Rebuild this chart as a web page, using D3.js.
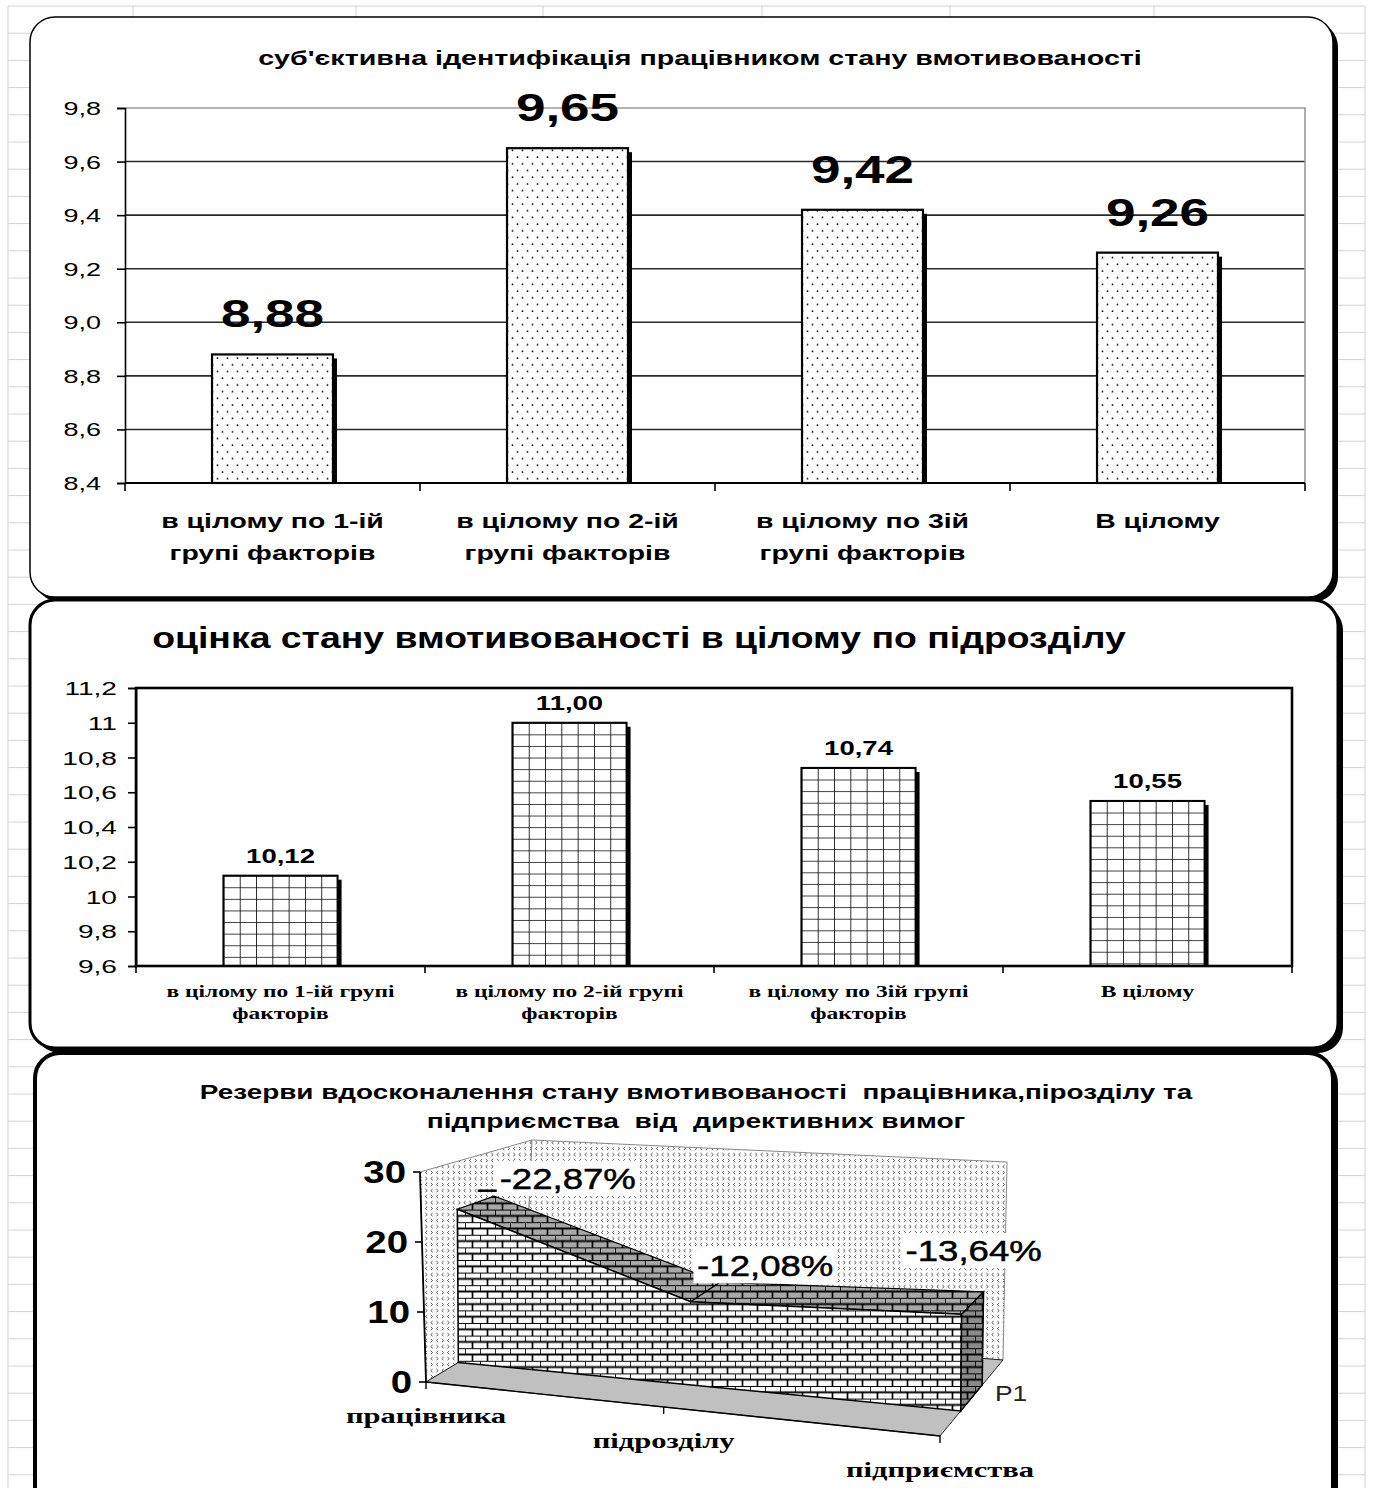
<!DOCTYPE html>
<html>
<head>
<meta charset="utf-8">
<script src="https://cdn.jsdelivr.net/npm/d3@7"></script>
<style>
  body { margin: 0; background: #fff; }
</style>
</head>
<body>
<div id="chart"></div>
<script>
// ---- data ----
const categories = ["в цілому по 1-ій групі факторів", "в цілому по 2-ій групі факторів", "в цілому по 3ій групі факторів", "В цілому"];

const title1 = "суб'єктивна ідентифікація працівником стану вмотивованості";
const values1 = [8.88, 9.65, 9.42, 9.26];
const ticks1 = [8.4, 8.6, 8.8, 9.0, 9.2, 9.4, 9.6, 9.8];

const title2 = "оцінка стану вмотивованості в цілому по підрозділу";
const values2 = [10.12, 11.00, 10.74, 10.55];
const ticks2 = [9.6, 9.8, 10, 10.2, 10.4, 10.6, 10.8, 11, 11.2];

const title3 = ["Резерви вдосконалення стану вмотивованості  працівника,пірозділу та", "підприємства  від  директивних вимог"];
const categories3 = ["працівника", "підрозділу", "підприємства"];
const values3 = [22.87, 12.08, 13.64];
const ticks3 = [0, 10, 20, 30];
const seriesName3 = "P1";

// ---- helpers ----
const SANS = "Arial, 'Liberation Sans', sans-serif";
const SERIF = "'Times New Roman', 'Liberation Serif', serif";
const uk = d3.formatLocale({ decimal: ",", thousands: " ", grouping: [3], currency: ["", ""] });

const svg = d3.select("#chart").append("svg")
    .attr("width", 1373).attr("height", 1488)
    .style("display", "block");
const defs = svg.append("defs");

// text drawn with horizontal stretch (the source screenshot is widened)
function label(parent, x, y, str, o) {
    const g = parent.append("g").attr("transform", `translate(${x},${y}) scale(${o.sx || 1},1)`);
    const t = g.append("text")
        .attr("text-anchor", o.anchor || "middle")
        .attr("fill", o.color || "#000")
        .style("font-family", o.serif ? SERIF : SANS)
        .style("font-size", o.size + "px")
        .style("font-weight", o.bold ? "bold" : "normal")
        .style("white-space", "pre")
        .text(str);
    if (o.width) {
        const w = t.node().getComputedTextLength();
        g.attr("transform", `translate(${x},${y}) scale(${o.width / w},1)`);
    }
    return { g, t };
}

function splitWords(str, n) {
    const w = str.split(" ");
    return w.length > n ? [w.slice(0, n).join(" "), w.slice(n).join(" ")] : [str];
}

// ---- patterns ----
const dots = defs.append("pattern").attr("id", "dots")
    .attr("patternUnits", "userSpaceOnUse").attr("width", 10).attr("height", 13.4);
dots.append("rect").attr("width", 10).attr("height", 13.4).attr("fill", "#fff");
dots.append("circle").attr("cx", 2.5).attr("cy", 3).attr("r", 0.9).attr("fill", "#000");
dots.append("circle").attr("cx", 7.5).attr("cy", 9.7).attr("r", 0.9).attr("fill", "#000");

const chev = defs.append("pattern").attr("id", "chev")
    .attr("patternUnits", "userSpaceOnUse").attr("width", 11).attr("height", 12);
chev.append("rect").attr("width", 11).attr("height", 12).attr("fill", "#fff");
chev.append("path")
    .attr("d", "M3.6,1 L1.8,2.6 L3.6,4.2 M7.4,1 L9.2,2.6 L7.4,4.2 M1.8,7 L3.6,8.6 L1.8,10.2 M9.2,7 L7.4,8.6 L9.2,10.2")
    .attr("fill", "none").attr("stroke", "#444").attr("stroke-width", 0.9);

function brick(id, fill) {
    const p = defs.append("pattern").attr("id", id)
        .attr("patternUnits", "userSpaceOnUse").attr("width", 15).attr("height", 12.6);
    p.append("rect").attr("width", 15).attr("height", 12.6).attr("fill", fill);
    p.append("path").attr("d", "M0,0H15 M0,6.3H15 M0,0V6.3 M7.5,6.3V12.6")
        .attr("stroke", "#000").attr("stroke-width", 1.7);
}
brick("brickW", "#fff");
brick("brickG", "#a8a8a8");
brick("brickD", "#8a8a8a");

// ---- spreadsheet background ----
const bg = svg.append("g").attr("stroke", "#d2d2d2").attr("stroke-width", 1);
[8, 133, 356, 543, 762, 950, 1154, 1365].forEach(x =>
    bg.append("line").attr("x1", x).attr("x2", x).attr("y1", 6).attr("y2", 1488));
d3.range(6, 1488, 27.2).forEach(y =>
    bg.append("line").attr("x1", 8).attr("x2", 1365).attr("y1", y).attr("y2", y));

// ---- panels ----
const panels = [
    { x: 30, y: 17, w: 1303, h: 580, sw: 1.5 },
    { x: 30, y: 600, w: 1308, h: 448, sw: 3 },
    { x: 35, y: 1053, w: 1298, h: 480, sw: 4 }
];
panels.forEach(p => {
    svg.append("rect").attr("x", p.x + 5).attr("y", p.y + 5).attr("width", p.w).attr("height", p.h)
        .attr("rx", 25).attr("fill", "#000");
    svg.append("rect").attr("x", p.x).attr("y", p.y).attr("width", p.w).attr("height", p.h)
        .attr("rx", 25).attr("fill", "#fff").attr("stroke", "#000").attr("stroke-width", p.sw);
});

// ================= chart 1 =================
(function () {
    const m = { left: 125, right: 1305, top: 108, bottom: 483 };
    const g = svg.append("g");
    const x = d3.scaleBand().domain(categories).range([m.left, m.right]);
    const y = d3.scaleLinear().domain([8.4, 9.8]).range([m.bottom, m.top]);

    label(g, 700, 65, title1, { size: 20, bold: true, width: 884 });

    // gridlines
    g.append("g").selectAll("line").data(ticks1.slice(1, -1)).join("line")
        .attr("x1", m.left).attr("x2", m.right).attr("y1", d => y(d)).attr("y2", d => y(d))
        .attr("stroke", "#2a2a2a").attr("stroke-width", 1.6);
    g.append("path")
        .attr("d", `M${m.left},${y(9.8)}H${m.right}V${m.bottom}`)
        .attr("fill", "none").attr("stroke", "#9a9a9a").attr("stroke-width", 1.6);

    // bars
    const bw = x.bandwidth() * 0.41;
    const bars = g.append("g").selectAll("g").data(values1).join("g");
    bars.append("rect")
        .attr("x", (d, i) => x(categories[i]) + (x.bandwidth() - bw) / 2 + 4)
        .attr("y", d => y(d) + 4)
        .attr("width", bw).attr("height", d => y(8.4) - y(d) - 4)
        .attr("fill", "#000");
    bars.append("rect")
        .attr("x", (d, i) => x(categories[i]) + (x.bandwidth() - bw) / 2)
        .attr("y", d => y(d))
        .attr("width", bw).attr("height", d => y(8.4) - y(d))
        .attr("fill", "url(#dots)").attr("stroke", "#000").attr("stroke-width", 2.2);

    // axes
    g.append("g").attr("transform", `translate(${m.left},0)`)
        .call(d3.axisLeft(y).tickValues(ticks1).tickSize(8).tickFormat(""))
        .call(a => a.selectAll("line,path").attr("stroke", "#000").attr("stroke-width", 1.6));
    g.append("line").attr("x1", m.left).attr("x2", m.right).attr("y1", m.bottom).attr("y2", m.bottom)
        .attr("stroke", "#000").attr("stroke-width", 1.8);
    const bounds = categories.map(c => x(c)).concat(m.right);
    g.append("g").selectAll("line").data(bounds).join("line")
        .attr("x1", d => d).attr("x2", d => d).attr("y1", m.bottom).attr("y2", m.bottom + 8)
        .attr("stroke", "#000").attr("stroke-width", 1.6);

    ticks1.forEach(t => label(g, 101, y(t) + 7, uk.format(".1f")(t), { size: 19, sx: 1.42, anchor: "end" }));

    values1.forEach((v, i) => label(g, x(categories[i]) + x.bandwidth() / 2, y(v) - 27,
        uk.format(".2f")(v), { size: 39, bold: true, sx: 1.36 }));

    categories.forEach(c => {
        splitWords(c, 4).forEach((line, j) =>
            label(g, x(c) + x.bandwidth() / 2, 528 + j * 32, line, { size: 20, bold: true, sx: 1.42 }));
    });
})();

// ================= chart 2 =================
(function () {
    const m = { left: 136, right: 1292, top: 688, bottom: 966 };
    const g = svg.append("g");
    const x = d3.scaleBand().domain(categories).range([m.left, m.right]);
    const y = d3.scaleLinear().domain([9.6, 11.2]).range([m.bottom, m.top]);

    label(g, 639, 648, title2, { size: 30, bold: true, width: 974 });

    const bw = x.bandwidth() * 0.395;
    values2.forEach((v, i) => {
        const bx = x(categories[i]) + (x.bandwidth() - bw) / 2;
        const by = y(v);
        const bh = y(9.6) - y(v);
        const cols = 7;
        const pat = defs.append("pattern").attr("id", "grid" + i)
            .attr("patternUnits", "userSpaceOnUse")
            .attr("width", bw / cols).attr("height", 11.6)
            .attr("patternTransform", `translate(${bx},${by})`);
        pat.append("rect").attr("width", bw / cols).attr("height", 11.6).attr("fill", "#fff");
        pat.append("path").attr("d", `M0,0H${bw / cols}M0,0V11.6`)
            .attr("stroke", "#000").attr("stroke-width", 1.6);

        g.append("rect").attr("x", bx + 4).attr("y", by + 4).attr("width", bw).attr("height", bh - 4)
            .attr("fill", "#000");
        g.append("rect").attr("x", bx).attr("y", by).attr("width", bw).attr("height", bh)
            .attr("fill", `url(#grid${i})`).attr("stroke", "#000").attr("stroke-width", 2);
        label(g, bx + bw / 2, by - 13, uk.format(".2f")(v), { size: 21, bold: true, sx: 1.31 });
    });

    g.append("rect").attr("x", m.left).attr("y", m.top)
        .attr("width", m.right - m.left).attr("height", m.bottom - m.top)
        .attr("fill", "none").attr("stroke", "#000").attr("stroke-width", 2.6);

    g.append("g").attr("transform", `translate(${m.left},0)`)
        .call(d3.axisLeft(y).tickValues(ticks2).tickSize(8).tickFormat(""))
        .call(a => a.selectAll("line,path").attr("stroke", "#000").attr("stroke-width", 1.6));
    const bounds = categories.map(c => x(c)).concat(m.right);
    g.append("g").selectAll("line").data(bounds).join("line")
        .attr("x1", d => d).attr("x2", d => d).attr("y1", m.bottom).attr("y2", m.bottom + 7)
        .attr("stroke", "#000").attr("stroke-width", 1.6);

    ticks2.forEach(t => label(g, 117, y(t) + 7, uk.format("~f")(t), { size: 19, sx: 1.48, anchor: "end" }));

    categories.forEach(c => {
        splitWords(c, 5).forEach((line, j) =>
            label(g, x(c) + x.bandwidth() / 2, 997 + j * 22, line, { size: 16.5, bold: true, serif: true, sx: 1.42 }));
    });
})();

// ================= chart 3 (3-D area) =================
(function () {
    const g = svg.append("g");
    title3.forEach((line, j) =>
        label(g, 696, 1099 + j * 29, line, { size: 20, bold: true, width: j === 0 ? 993 : 539 }));

    // box corners on screen: Front/Back, Left/Right, Bottom/Top
    const C = {
        FLB: [426, 1382], FLT: [420, 1172], BLB: [524, 1323], BLT: [532, 1140],
        FRB: [940, 1436], FRT: [941, 1216], BRB: [1003, 1360], BRT: [1007, 1162]
    };
    const persp = 0.86; // right end is nearer to the viewer
    const lerp = (a, b, t) => [a[0] + (b[0] - a[0]) * t, a[1] + (b[1] - a[1]) * t];
    function project(c, v, d) {
        const s = c * persp / ((1 - c) + c * persp);
        const front = lerp(lerp(C.FLB, C.FLT, v), lerp(C.FRB, C.FRT, v), s);
        const back = lerp(lerp(C.BLB, C.BLT, v), lerp(C.BRB, C.BRT, v), s);
        return lerp(front, back, d);
    }
    const cx = d3.scalePoint().domain(categories3).range([0, 1]);
    const vy = d3.scaleLinear().domain([0, 30]).range([0, 1]);
    const d0 = 0.33, d1 = 0.67;
    const poly = pts => "M" + pts.map(p => p.join(",")).join("L") + "Z";

    // walls and floor
    g.append("path").attr("d", poly([project(0, 0, 0), project(0, 1, 0), project(0, 1, 1), project(0, 0, 1)]))
        .attr("fill", "url(#chev)").attr("stroke", "#888").attr("stroke-width", 1);
    g.append("path").attr("d", poly([project(0, 0, 1), project(0, 1, 1), project(1, 1, 1), project(1, 0, 1)]))
        .attr("fill", "url(#chev)").attr("stroke", "#888").attr("stroke-width", 1);
    g.append("path").attr("d", poly([project(0, 0, 0), project(1, 0, 0), project(1, 0, 1), project(0, 0, 1)]))
        .attr("fill", "#c0c0c0").attr("stroke", "#000").attr("stroke-width", 0.8);

    // area: top surfaces, front face, right face
    const pts = values3.map((v, i) => ({ c: cx(categories3[i]), v: vy(v) }));
    for (let i = 0; i < pts.length - 1; i++) {
        const a = pts[i], b = pts[i + 1];
        g.append("path")
            .attr("d", poly([project(a.c, a.v, d0), project(b.c, b.v, d0), project(b.c, b.v, d1), project(a.c, a.v, d1)]))
            .attr("fill", "url(#brickG)").attr("stroke", "#000").attr("stroke-width", 1.2);
    }
    const front = [project(0, 0, d0), project(1, 0, d0)]
        .concat(pts.slice().reverse().map(p => project(p.c, p.v, d0)));
    g.append("path").attr("d", poly(front))
        .attr("fill", "url(#brickW)").attr("stroke", "#000").attr("stroke-width", 1.5);
    const last = pts[pts.length - 1];
    g.append("path")
        .attr("d", poly([project(1, 0, d0), project(1, last.v, d0), project(1, last.v, d1), project(1, 0, d1)]))
        .attr("fill", "url(#brickD)").attr("stroke", "#000").attr("stroke-width", 1.5);

    // value axis
    const a0 = project(0, 0, 0), a1 = project(0, 1, 0);
    g.append("line").attr("x1", a0[0]).attr("y1", a0[1]).attr("x2", a1[0]).attr("y2", a1[1])
        .attr("stroke", "#000").attr("stroke-width", 1.8);
    ticks3.forEach(t => {
        const p = project(0, vy(t), 0);
        g.append("line").attr("x1", p[0] - 7).attr("x2", p[0]).attr("y1", p[1]).attr("y2", p[1])
            .attr("stroke", "#000").attr("stroke-width", 1.6);
        label(g, p[0] - 14, p[1] + 11, String(t), { size: 32, bold: true, sx: 1.2, anchor: "end" });
    });

    // category axis along the front edge
    const e0 = project(0, 0, 0), e1 = project(1, 0, 0);
    g.append("line").attr("x1", e0[0]).attr("y1", e0[1]).attr("x2", e1[0]).attr("y2", e1[1])
        .attr("stroke", "#000").attr("stroke-width", 1.4);
    categories3.forEach(c => {
        const p = project(cx(c), 0, 0);
        g.append("line").attr("x1", p[0]).attr("x2", p[0]).attr("y1", p[1]).attr("y2", p[1] + 7)
            .attr("stroke", "#000").attr("stroke-width", 1.4);
        label(g, p[0], p[1] + 41, c, { size: 22, bold: true, serif: true, sx: 1.39 });
    });

    const s = project(1, 0, 1);
    label(g, s[0] - 8, s[1] + 41, seriesName3, { size: 22, sx: 1.2, anchor: "start", color: "#222" });

    // data labels (white boxes), nudged like the original
    const nudge = [[92, -25], [60, -27], [1, -53]];
    pts.forEach((p, i) => {
        const q = project(p.c, p.v, 0.5);
        const lx = q[0] + nudge[i][0], ly = q[1] + nudge[i][1];
        const L = label(g, lx, ly + 11, "-" + uk.format(".2f")(values3[i]) + "%", { size: 30, sx: 1.22 });
        L.t.attr("stroke", "#000").attr("stroke-width", 0.5);
        const bb = L.t.node().getBBox();
        L.g.insert("rect", "text").attr("x", bb.x - 3).attr("y", bb.y - 1)
            .attr("width", bb.width + 6).attr("height", bb.height + 2).attr("fill", "#fff");
        if (i === 0) {
            g.append("line").attr("x1", lx - 90).attr("x2", lx - 71).attr("y1", ly + 13).attr("y2", ly + 13)
                .attr("stroke", "#000").attr("stroke-width", 2.5);
        }
    });
})();
</script>
</body>
</html>
